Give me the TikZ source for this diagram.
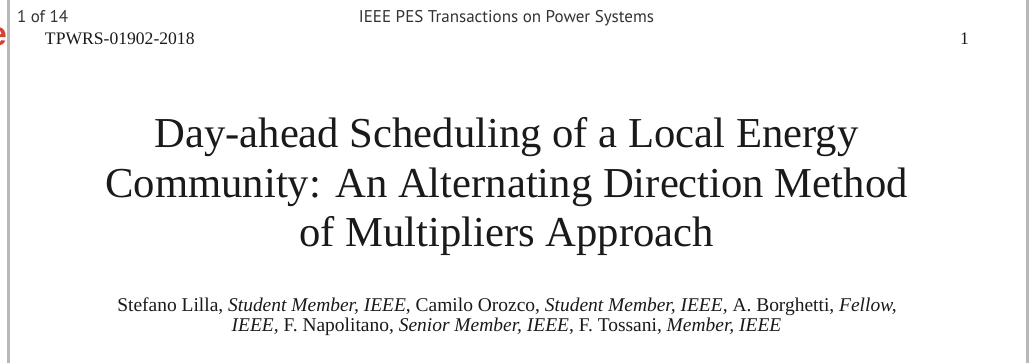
\documentclass[tikz,border=0pt]{standalone}
\usepackage{fontspec}
\setmainfont{Liberation Serif}
\newfontfamily\hdrfont{PT Sans}
\newfontfamily\tabfont{Liberation Sans}
\definecolor{ink}{HTML}{1A1A1A}
\definecolor{hdrink}{HTML}{333333}
\definecolor{rule}{HTML}{B8B8B8}
\definecolor{tabred}{HTML}{D9412E}
\begin{document}
\begin{tikzpicture}[x=0.75pt,y=-0.75pt,
  every node/.style={inner sep=0pt,outer sep=0pt},
  hdr/.style={font=\hdrfont\fontsize{12.75pt}{14pt}\selectfont,text=hdrink,anchor=base west},
  serifhdr/.style={font=\fontsize{13.2pt}{15pt}\selectfont,text=ink,anchor=base west},
  titleline/.style={font=\fontsize{32pt}{37pt}\selectfont,text=ink,anchor=base},
  authorline/.style={font=\fontsize{14.6pt}{16pt}\selectfont,text=ink,anchor=base},
  edge/.style={draw=rule,line width=2.4pt*0.75}]
\useasboundingbox (0,0) rectangle (1029,363);
\fill[white] (0,0) rectangle (1029,363);

% page border of the viewer
\draw[edge] (8.5,0) -- (8.5,363);
\draw[edge] (1027.5,0) -- (1027.5,363);

% red tab glyph peeking in at the left edge
\begin{scope}
  \clip (0,0) rectangle (7,363);
  \node[font=\tabfont\bfseries\fontsize{25pt}{27pt}\selectfont,text=tabred,anchor=base west] (tab) at (-11.5,45.5) {e};
\end{scope}

% running header
\node[hdr] (pages) at (17,22.5) {1 of 14};
\node[hdr,anchor=base] (journal) at (506.5,22.5) {IEEE PES Transactions on Power Systems};
\node[serifhdr] (paperid) at (45,45) {TPWRS-01902-2018};
\node[serifhdr,anchor=base east] (pagenum) at (969,45) {1};

% title
\node[titleline] (t1) at (506.5,148) {Day-ahead Scheduling of a Local Energy};
\node[titleline] (t2) at (506.5,197.5) {Community: An Alternating Direction Method};
\node[titleline] (t3) at (506.5,247) {of Multipliers Approach};

% authors
\node[authorline] (a1) at (507,312) {Stefano Lilla, \textit{Student Member, IEEE}, Camilo Orozco, \textit{Student Member, IEEE,} A. Borghetti, \textit{Fellow,}};
\node[authorline] (a2) at (506.5,331.5) {\textit{IEEE,} F. Napolitano, \textit{Senior Member, IEEE}, F. Tossani, \textit{Member, IEEE}};
\end{tikzpicture}
\end{document}
